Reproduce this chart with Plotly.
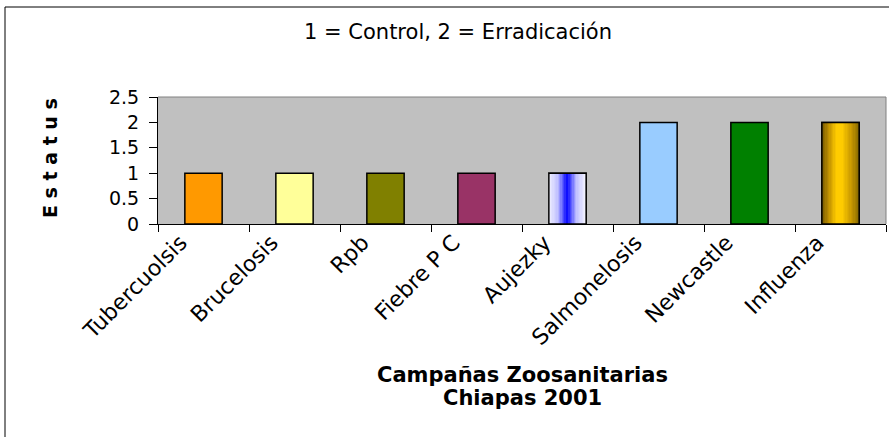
import plotly.graph_objects as go

# data
campaigns = ['Tubercuolsis', 'Brucelosis', 'Rpb', 'Fiebre P C', 'Aujezky',
             'Salmonelosis', 'Newcastle', 'Influenza']
status = [1, 1, 1, 1, 1, 2, 2, 2]
y_ticks = [0, 0.5, 1, 1.5, 2, 2.5]

# bar fills; None means a gradient fill drawn separately
COLORS = ['#FF9900', '#FFFF99', '#808000', '#993366', None,
          '#99CCFF', '#008000', None]
GRADIENTS = {
    'Aujezky': [(0, '#F4F4FF'), (0.25, '#C0C0FF'), (0.42, '#4040FF'),
                (0.5, '#0000FF'), (0.58, '#4040FF'), (0.75, '#C0C0FF'),
                (1, '#F4F4FF')],
    'Influenza': [(0, '#705400'), (0.2, '#C09000'), (0.4, '#FFCC00'),
                  (0.55, '#FFCC00'), (0.8, '#C89800'), (1, '#8A6C00')],
}

FONT = 'DejaVu Sans, Arial, sans-serif'
BAR_W = 0.41
N_STRIPS = 28

# page geometry (pixels)
FIG_W, FIG_H = 889, 437
L, R, T, B = 158, 3, 97, 213
W = FIG_W - L - R
H = FIG_H - T - B


def px_x(px):
    return (px - L) / W


def px_y(py):
    return (FIG_H - B - py) / H


def hex_rgb(h):
    h = h.lstrip('#')
    return [int(h[i:i + 2], 16) for i in (0, 2, 4)]


def color_at(stops, t):
    for (t0, c0), (t1, c1) in zip(stops[:-1], stops[1:]):
        if t0 <= t <= t1:
            f = (t - t0) / (t1 - t0) if t1 > t0 else 0
            a, b = hex_rgb(c0), hex_rgb(c1)
            return 'rgb(%d,%d,%d)' % tuple(round(a[i] + (b[i] - a[i]) * f) for i in range(3))
    return stops[-1][1]


def label(text, x, y, size, angle=0):
    return dict(text=text, x=px_x(x), y=px_y(y), xref='paper', yref='paper',
                xanchor='center', yanchor='middle', textangle=angle,
                showarrow=False, font=dict(family=FONT, size=size, color='black'))


fig = go.Figure()

# main bars with outlines (drawn first so the category order follows the list)
fig.add_trace(go.Bar(
    x=campaigns, y=status, width=BAR_W,
    marker=dict(color=[c if c else 'rgba(0,0,0,0)' for c in COLORS],
                line=dict(color='black', width=1.5)),
    showlegend=False,
))

# gradient bars as thin strips
for name, stops in GRADIENTS.items():
    i = campaigns.index(name)
    step = BAR_W / N_STRIPS
    fig.add_trace(go.Bar(
        x=[name] * N_STRIPS,
        y=[status[i]] * N_STRIPS,
        width=[step * 1.2] * N_STRIPS,
        offset=[-BAR_W / 2 + k * step for k in range(N_STRIPS)],
        marker=dict(color=[color_at(stops, (k + 0.5) / N_STRIPS) for k in range(N_STRIPS)],
                    line=dict(width=0)),
        showlegend=False, hoverinfo='skip',
    ))

# outlines again on top of the gradient strips
fig.add_trace(go.Bar(
    x=list(GRADIENTS), y=[status[campaigns.index(n)] for n in GRADIENTS], width=BAR_W,
    marker=dict(color='rgba(0,0,0,0)', line=dict(color='black', width=1.5)),
    showlegend=False, hoverinfo='skip',
))

fig.update_layout(
    width=FIG_W, height=FIG_H,
    margin=dict(l=L, r=R, t=T, b=B),
    barmode='overlay',
    plot_bgcolor='#C0C0C0', paper_bgcolor='white',
    font=dict(family=FONT, size=19, color='black'),
    xaxis=dict(
        type='category', categoryorder='array', categoryarray=campaigns,
        tickangle=-45, tickson='boundaries',
        ticks='outside', ticklen=7, tickcolor='black',
        ticklabelshift=-23, ticklabelstandoff=-4,
        showline=True, linecolor='black', linewidth=1,
        showgrid=False, zeroline=False,
        tickfont=dict(family=FONT, size=22),
    ),
    yaxis=dict(
        range=[0, 2.5], tickvals=y_ticks, ticktext=[f'{v:g}' for v in y_ticks],
        ticks='outside', ticklen=8, tickcolor='black', ticklabelstandoff=6,
        showline=True, linecolor='black', linewidth=1,
        showgrid=False, zeroline=False,
        tickfont=dict(family=FONT, size=19),
    ),
    shapes=[
        # gray top and right edges of the plot area
        dict(type='line', xref='paper', yref='paper', x0=0, x1=1, y0=1, y1=1,
             line=dict(color='#808080', width=1)),
        dict(type='line', xref='paper', yref='paper', x0=1, x1=1, y0=0, y1=1,
             line=dict(color='#808080', width=1)),
        # chart frame
        dict(type='rect', xref='paper', yref='paper',
             x0=px_x(5), x1=px_x(FIG_W + 10), y0=px_y(FIG_H + 10), y1=px_y(7),
             line=dict(color='black', width=1), fillcolor='rgba(0,0,0,0)'),
    ],
    annotations=[
        label('1 = Control, 2 = Erradicación', 458, 32, 21),
        label('<b>E s t a t u s</b>', 50, 158, 19, angle=-90),
        label('<b>Campañas Zoosanitarias</b>', 522, 375, 21),
        label('<b>Chiapas 2001</b>', 522, 398, 21),
    ],
)

# drop the page's default body margin so the figure sits at the window origin
fig.write_html('out.html', config={'displayModeBar': False},
               post_script="document.body.style.margin='0';")
